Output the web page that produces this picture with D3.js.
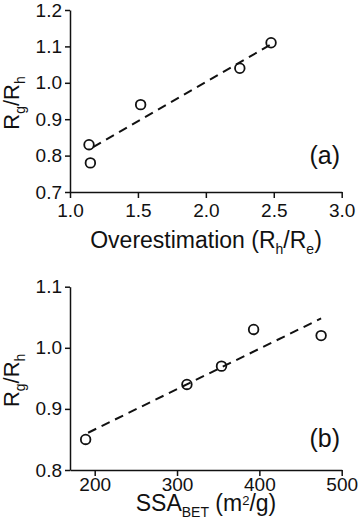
<!DOCTYPE html>
<html>
<head>
<meta charset="utf-8">
<script src="https://cdn.jsdelivr.net/npm/d3@7"></script>
<style>
  body { margin: 0; background: #fff; }
  svg { display: block; font-family: "Liberation Sans", Arial, sans-serif; }
  .axis path, .axis line { stroke: #111; stroke-width: 1.5px; }
  .axis text { font-size: 19px; fill: #111; font-family: "Liberation Sans", Arial, sans-serif; }
</style>
</head>
<body>
<div id="chart"></div>
<script>
// panel (a): Rg/Rh vs overestimation
const overX = [1.14, 1.15, 1.52, 2.25, 2.48];
const overY = [0.83, 0.78, 0.94, 1.04, 1.11];
const trendAX = [1.17, 2.50];
const trendAY = [0.823, 1.110];
const ticksAX = [1.0, 1.5, 2.0, 2.5, 3.0];
const ticksAY = [0.7, 0.8, 0.9, 1.0, 1.1, 1.2];

// panel (b): Rg/Rh vs SSA_BET
const ssaX = [189, 312, 354, 393, 475];
const ssaY = [0.85, 0.94, 0.97, 1.03, 1.02];
const trendBX = [192, 475];
const trendBY = [0.861, 1.048];
const ticksBX = [200, 300, 400, 500];
const ticksBY = [0.8, 0.9, 1.0, 1.1];

const svg = d3.select("#chart").append("svg")
    .attr("width", 358)
    .attr("height", 531);

function panel(opts) {
    const x = d3.scaleLinear().domain(opts.xDomain).range([70, 341.7]);
    const y = d3.scaleLinear().domain(opts.yDomain).range(opts.yRange);
    const g = svg.append("g");

    g.append("g")
        .attr("class", "axis")
        .attr("transform", "translate(0," + opts.yRange[0] + ")")
        .call(d3.axisBottom(x).tickValues(opts.xTicks).tickFormat(d3.format(opts.xFmt))
            .tickSizeInner(6).tickSizeOuter(0).tickPadding(opts.xPad));

    g.append("g")
        .attr("class", "axis")
        .attr("transform", "translate(70,0)")
        .call(d3.axisLeft(y).tickValues(opts.yTicks).tickFormat(d3.format(".1f"))
            .tickSizeInner(5).tickSizeOuter(0).tickPadding(3));

    // dashed fit line
    const line = d3.line().x(d => x(d[0])).y(d => y(d[1]));
    g.append("path")
        .datum(d3.zip(opts.trendX, opts.trendY))
        .attr("d", line)
        .attr("fill", "none")
        .attr("stroke", "#111")
        .attr("stroke-width", 2)
        .attr("stroke-dasharray", "9,6");

    g.selectAll("circle.pt")
        .data(d3.zip(opts.xs, opts.ys))
        .enter()
        .append("circle")
        .attr("class", "pt")
        .attr("cx", d => x(d[0]))
        .attr("cy", d => y(d[1]))
        .attr("r", 4.8)
        .attr("fill", "none")
        .attr("stroke", "#111")
        .attr("stroke-width", 1.8);

    // y title Rg/Rh
    const cy = (opts.yRange[0] + opts.yRange[1]) / 2;
    const yt = g.append("text")
        .attr("transform", "translate(19," + (cy + 2) + ") rotate(-90)")
        .attr("text-anchor", "middle")
        .attr("font-size", "22px")
        .attr("fill", "#111");
    yt.append("tspan").text("R");
    yt.append("tspan").attr("font-size", "14px").attr("dy", 6).text("g");
    yt.append("tspan").attr("dy", -6).text("/R");
    yt.append("tspan").attr("font-size", "14px").attr("dy", 6).text("h");

    // x title
    const xt = g.append("text")
        .attr("x", 206)
        .attr("y", opts.xTitleY)
        .attr("text-anchor", "middle")
        .attr("font-size", "23px")
        .attr("fill", "#111");
    opts.xTitle(xt);

    g.append("text")
        .attr("x", 340)
        .attr("y", opts.tagY)
        .attr("text-anchor", "end")
        .attr("font-size", "25px")
        .attr("fill", "#111")
        .text(opts.tag);
}

panel({
    xDomain: [1, 3], yDomain: [0.7, 1.2], yRange: [192, 10],
    xTicks: ticksAX, yTicks: ticksAY, xFmt: ".1f", xPad: 6,
    xs: overX, ys: overY, trendX: trendAX, trendY: trendAY,
    xTitleY: 248, tagY: 164, tag: "(a)",
    xTitle: t => {
        t.append("tspan").text("Overestimation (R");
        t.append("tspan").attr("font-size", "14px").attr("dy", 6).text("h");
        t.append("tspan").attr("dy", -6).text("/R");
        t.append("tspan").attr("font-size", "14px").attr("dy", 6).text("e");
        t.append("tspan").attr("dy", -6).text(")");
    }
});

panel({
    xDomain: [170, 500], yDomain: [0.8, 1.1], yRange: [470, 286.7],
    xTicks: ticksBX, yTicks: ticksBY, xFmt: "d", xPad: 2,
    xs: ssaX, ys: ssaY, trendX: trendBX, trendY: trendBY,
    xTitleY: 511, tagY: 447, tag: "(b)",
    xTitle: t => {
        t.append("tspan").text("SSA");
        t.append("tspan").attr("font-size", "14px").attr("dy", 6).text("BET");
        t.append("tspan").attr("dy", -6).text(" (m");
        t.append("tspan").attr("font-size", "13px").attr("dy", -6).text("2");
        t.append("tspan").attr("dy", 6).text("/g)");
    }
});
</script>
</body>
</html>
